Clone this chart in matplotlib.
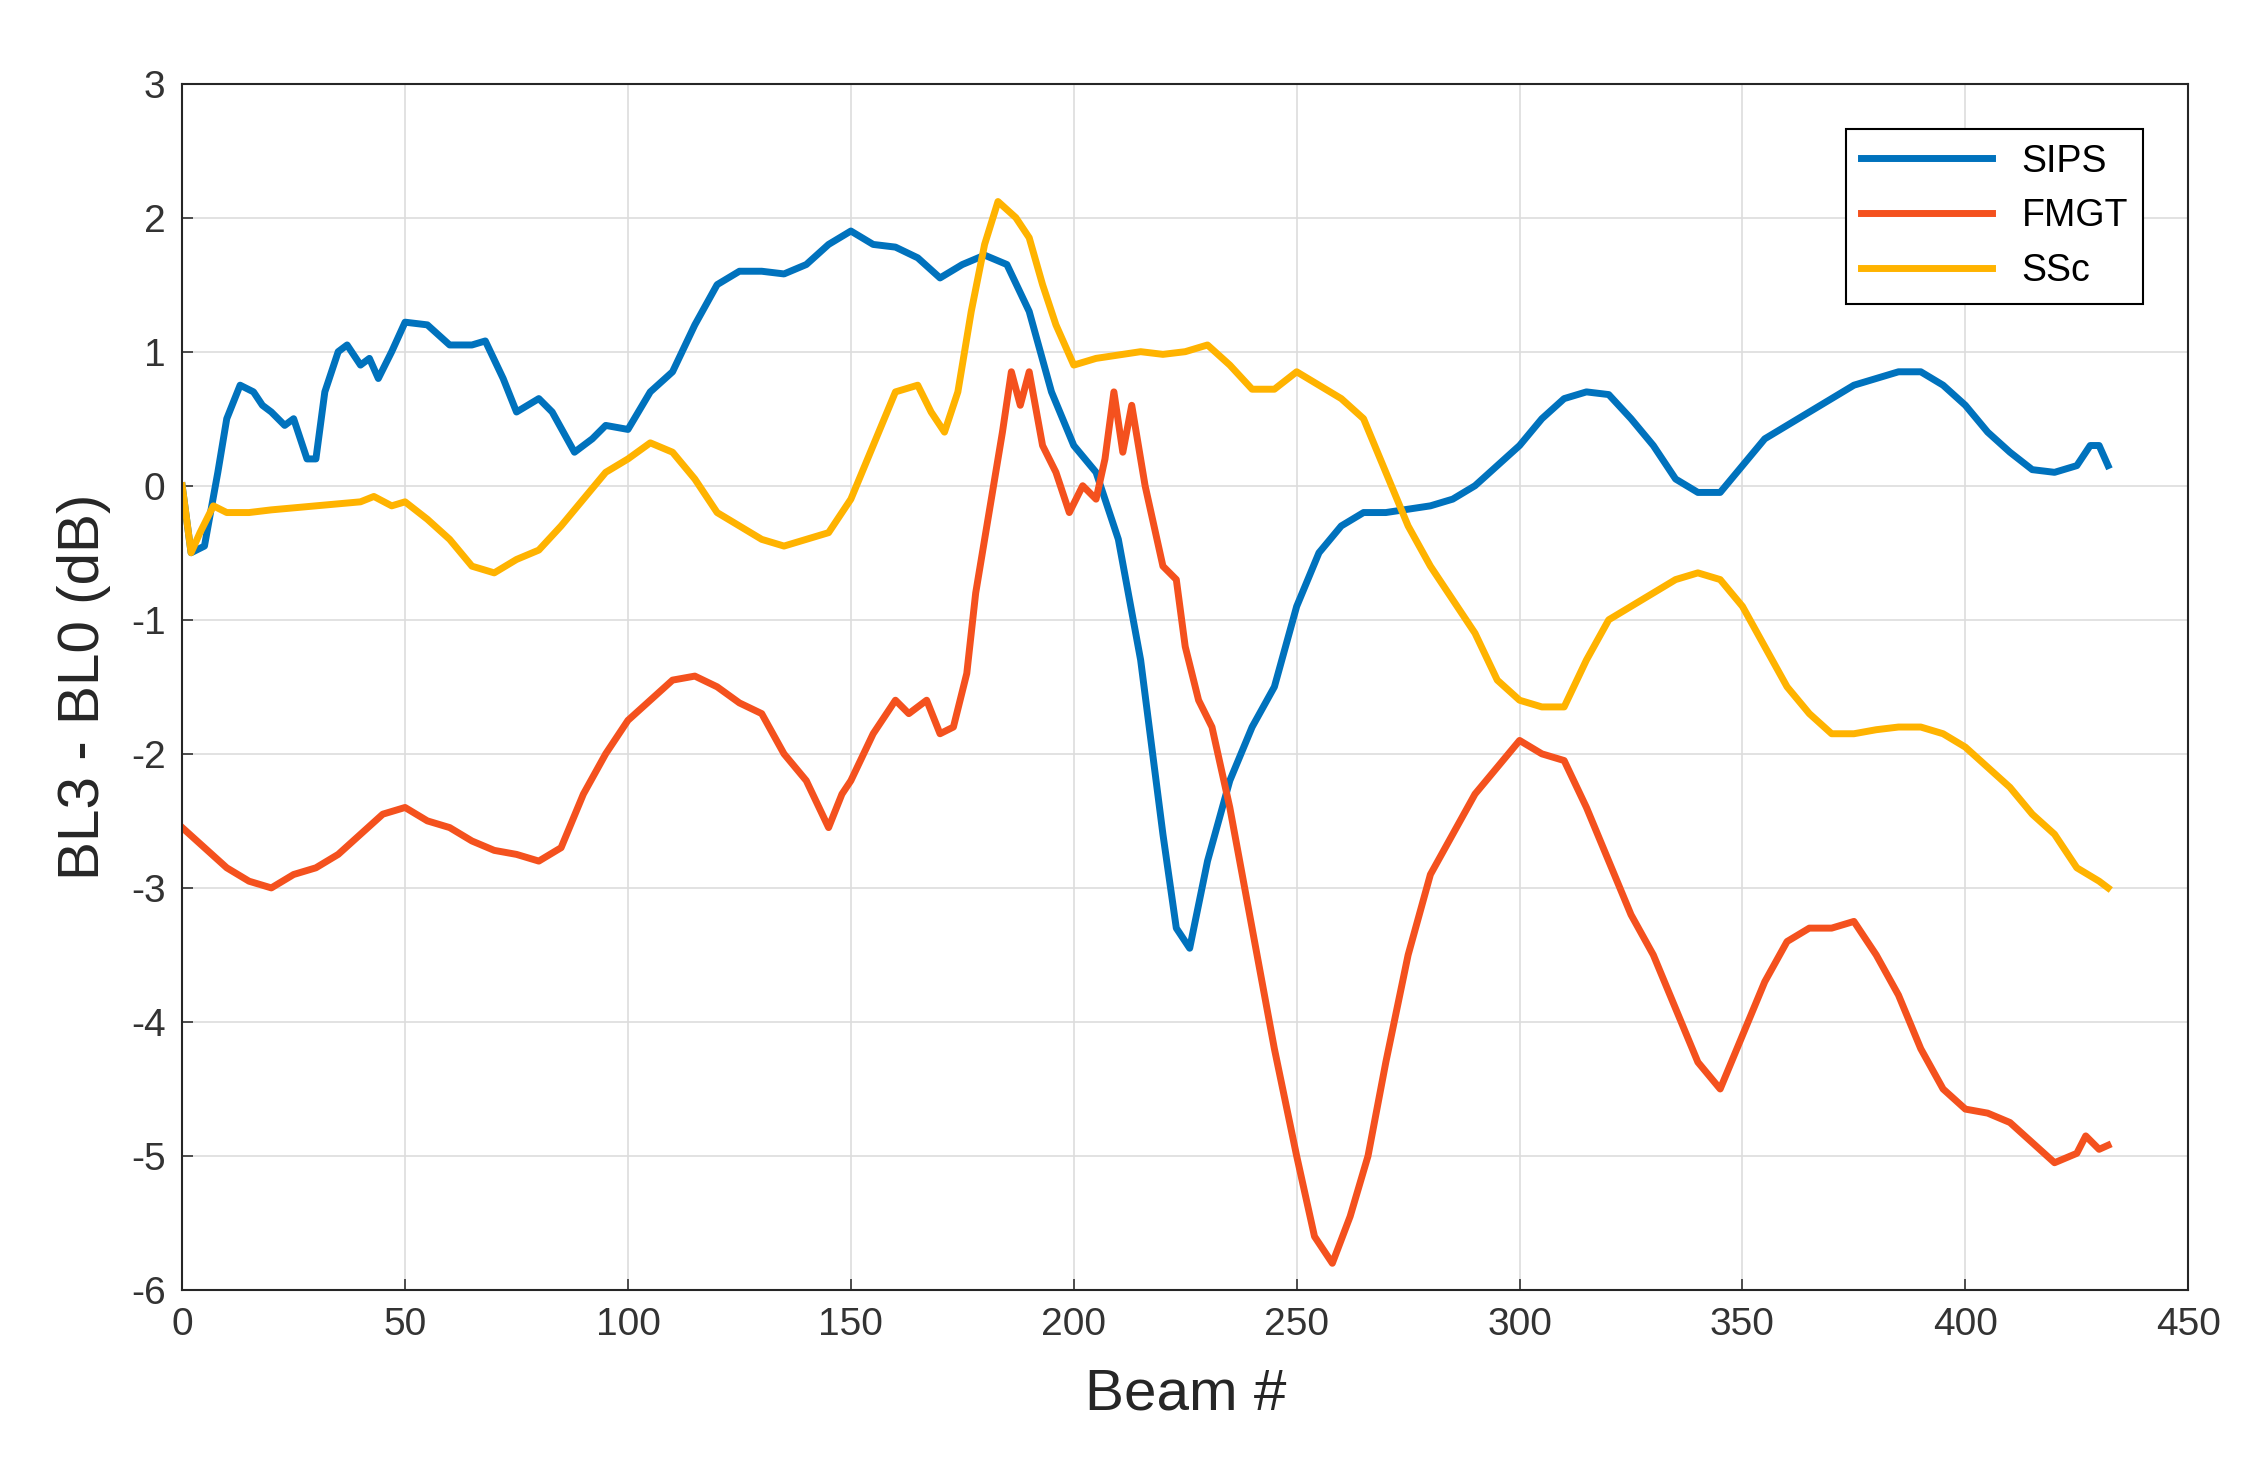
import matplotlib
matplotlib.use('Agg')
import matplotlib.pyplot as plt

plt.rcParams['font.family'] = ['Liberation Sans', 'DejaVu Sans']
plt.rcParams['axes.unicode_minus'] = False

# Beam # / dB values
sips_x = [0, 2, 5, 8, 10, 13, 16, 18, 20, 23, 25, 28, 30, 32, 35, 37, 40, 42, 44, 47, 50, 55, 60, 65, 68,
          72, 75, 80, 83, 88, 92, 95, 100, 105, 110, 115, 120, 125, 130, 135, 140, 145, 150, 155, 160,
          165, 170, 175, 180, 185, 190, 195, 200, 205, 210, 215, 220, 223, 226, 230, 235, 240, 245, 250,
          255, 260, 265, 270, 280, 285, 290, 300, 305, 310, 315, 320, 325, 330, 335, 340, 345, 350, 355,
          360, 365, 370, 375, 380, 385, 390, 395, 400, 405, 410, 415, 420, 425, 428, 430, 432]
sips_y = [0, -0.5, -0.45, 0.1, 0.5, 0.75, 0.7, 0.6, 0.55, 0.45, 0.5, 0.2, 0.2, 0.7, 1.0, 1.05, 0.9, 0.95,
          0.8, 1.0, 1.22, 1.2, 1.05, 1.05, 1.08, 0.8, 0.55, 0.65, 0.55, 0.25, 0.35, 0.45, 0.42, 0.7, 0.85,
          1.2, 1.5, 1.6, 1.6, 1.58, 1.65, 1.8, 1.9, 1.8, 1.78, 1.7, 1.55, 1.65, 1.72, 1.65, 1.3, 0.7, 0.3,
          0.1, -0.4, -1.3, -2.6, -3.3, -3.45, -2.8, -2.2, -1.8, -1.5, -0.9, -0.5, -0.3, -0.2, -0.2, -0.15,
          -0.1, 0.0, 0.3, 0.5, 0.65, 0.7, 0.68, 0.5, 0.3, 0.05, -0.05, -0.05, 0.15, 0.35, 0.45, 0.55, 0.65,
          0.75, 0.8, 0.85, 0.85, 0.75, 0.6, 0.4, 0.25, 0.12, 0.1, 0.15, 0.3, 0.3, 0.15]

fmgt_x = [0, 5, 10, 15, 20, 25, 30, 35, 40, 45, 50, 55, 60, 65, 70, 75, 80, 85, 90, 95, 100, 105, 110,
          115, 120, 125, 130, 135, 140, 145, 148, 150, 155, 160, 163, 167, 170, 173, 176, 178, 181, 184,
          186, 188, 190, 193, 196, 199, 202, 205, 207, 209, 211, 213, 216, 220, 223, 225, 228, 231, 235,
          240, 245, 250, 254, 258, 262, 266, 270, 275, 280, 285, 290, 295, 300, 305, 310, 315, 320, 325,
          330, 335, 340, 345, 350, 355, 360, 365, 370, 375, 380, 385, 390, 395, 400, 405, 410, 415, 420,
          425, 427, 430, 432]
fmgt_y = [-2.55, -2.7, -2.85, -2.95, -3.0, -2.9, -2.85, -2.75, -2.6, -2.45, -2.4, -2.5, -2.55, -2.65,
          -2.72, -2.75, -2.8, -2.7, -2.3, -2.0, -1.75, -1.6, -1.45, -1.42, -1.5, -1.62, -1.7, -2.0, -2.2,
          -2.55, -2.3, -2.2, -1.85, -1.6, -1.7, -1.6, -1.85, -1.8, -1.4, -0.8, -0.2, 0.4, 0.85, 0.6, 0.85,
          0.3, 0.1, -0.2, 0.0, -0.1, 0.2, 0.7, 0.25, 0.6, 0.0, -0.6, -0.7, -1.2, -1.6, -1.8, -2.4, -3.3,
          -4.2, -5.0, -5.6, -5.8, -5.45, -5.0, -4.3, -3.5, -2.9, -2.6, -2.3, -2.1, -1.9, -2.0, -2.05, -2.4,
          -2.8, -3.2, -3.5, -3.9, -4.3, -4.5, -4.1, -3.7, -3.4, -3.3, -3.3, -3.25, -3.5, -3.8, -4.2, -4.5,
          -4.65, -4.68, -4.75, -4.9, -5.05, -4.98, -4.85, -4.95, -4.92]

ssc_x = [0, 2, 4, 7, 10, 15, 20, 30, 40, 43, 47, 50, 55, 60, 65, 70, 75, 80, 85, 90, 95, 100, 105, 110,
         115, 120, 125, 130, 135, 140, 145, 150, 155, 160, 165, 168, 171, 174, 177, 180, 183, 187, 190,
         193, 196, 200, 205, 215, 220, 225, 230, 235, 240, 245, 250, 255, 260, 265, 270, 275, 280, 285,
         290, 295, 300, 305, 310, 315, 320, 325, 330, 335, 340, 345, 350, 355, 360, 365, 370, 375, 380,
         385, 390, 395, 400, 405, 410, 415, 420, 425, 430, 432]
ssc_y = [0.0, -0.5, -0.35, -0.15, -0.2, -0.2, -0.18, -0.15, -0.12, -0.08, -0.15, -0.12, -0.25, -0.4,
         -0.6, -0.65, -0.55, -0.48, -0.3, -0.1, 0.1, 0.2, 0.32, 0.25, 0.05, -0.2, -0.3, -0.4, -0.45, -0.4,
         -0.35, -0.1, 0.3, 0.7, 0.75, 0.55, 0.4, 0.7, 1.3, 1.8, 2.12, 2.0, 1.85, 1.5, 1.2, 0.9, 0.95, 1.0,
         0.98, 1.0, 1.05, 0.9, 0.72, 0.72, 0.85, 0.75, 0.65, 0.5, 0.1, -0.3, -0.6, -0.85, -1.1, -1.45,
         -1.6, -1.65, -1.65, -1.3, -1.0, -0.9, -0.8, -0.7, -0.65, -0.7, -0.9, -1.2, -1.5, -1.7, -1.85,
         -1.85, -1.82, -1.8, -1.8, -1.85, -1.95, -2.1, -2.25, -2.45, -2.6, -2.85, -2.95, -3.0]

fig = plt.figure(figsize=(22.49, 14.66), dpi=100)
ax = fig.add_axes([0.081, 0.12, 0.892, 0.823])

ax.plot(sips_x, sips_y, color='#0072BD', lw=5, label='SIPS')
ax.plot(fmgt_x, fmgt_y, color='#F4511E', lw=5, label='FMGT')
ax.plot(ssc_x, ssc_y, color='#FFB300', lw=5, label='SSc')

ax.set_xlim(0, 450)
ax.set_ylim(-6, 3)
ax.set_xticks(range(0, 451, 50))
ax.set_yticks(range(-6, 4))
ax.grid(True, color='#DDDDDD', lw=1.2)
ax.tick_params(labelsize=28, direction='in', length=8, width=1.2, colors='#333333', pad=12)
for s in ax.spines.values():
    s.set_linewidth(1.5)
    s.set_color('#262626')

ax.set_xlabel('Beam #', fontsize=42, color='#262626', labelpad=18)
ax.set_ylabel('BL3 - BL0 (dB)', fontsize=42, color='#262626', labelpad=14)

leg = ax.legend(loc='upper right', fontsize=27, fancybox=False, framealpha=1,
                edgecolor='black', handlelength=3.5, borderaxespad=1.2)
leg.get_frame().set_linewidth(1.5)

fig.savefig('out.png', dpi=100, facecolor='white')
